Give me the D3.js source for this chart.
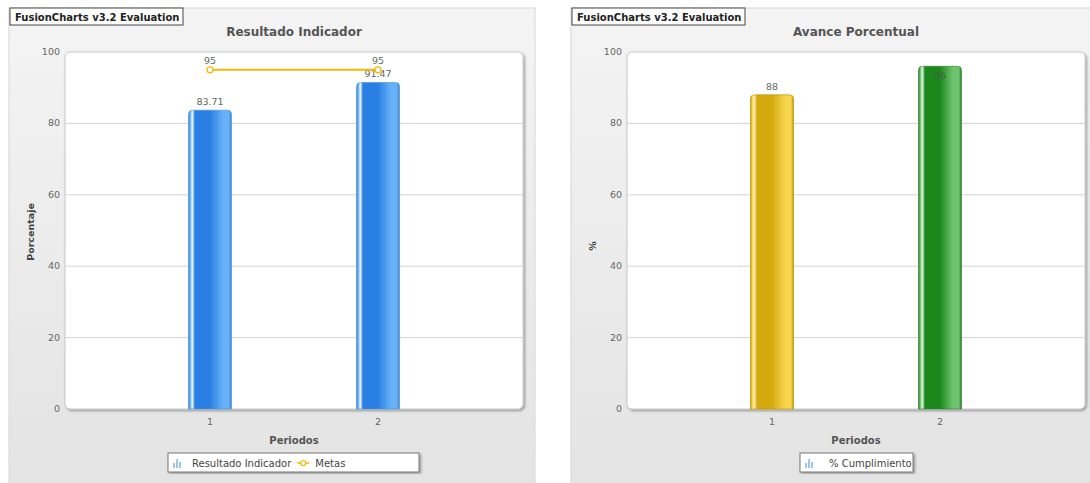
<!DOCTYPE html>
<html>
<head>
<meta charset="utf-8">
<script src="https://cdn.jsdelivr.net/npm/d3@7"></script>
<style>
  body { margin: 0; background: #fff; }
  text { font-family: "DejaVu Sans", Verdana, sans-serif; }
</style>
</head>
<body>
<div id="chart"></div>
<script>
// data
var periods = ["1", "2"];
var resultadoIndicador = [83.71, 91.47];
var metas = [95, 95];
var cumplimiento = [88, 96];
var yTicks = [0, 20, 40, 60, 80, 100];

var svg = d3.select("#chart").append("svg")
    .attr("width", 1090).attr("height", 483);

var defs = svg.append("defs");

function barGradient(id, edge, hi, mid, light)
{
    var g = defs.append("linearGradient").attr("id", id)
        .attr("x1", "0%").attr("x2", "100%").attr("y1", "0%").attr("y2", "0%");
    [[0, edge], [0.04, light], [0.09, hi], [0.15, mid], [0.5, mid], [0.8, light], [0.94, light], [1, edge]]
        .forEach(function (s) { g.append("stop").attr("offset", s[0]).attr("stop-color", s[1]); });
}
barGradient("gBlue", "#3a7ccc", "#eef7ff", "#2a7fe2", "#66b2f9");
barGradient("gGold", "#c09600", "#fbeeb8", "#d4a90e", "#f7d64c");
barGradient("gGreen", "#237a23", "#dff5df", "#1c881c", "#6ec36e");

var panelGrad = defs.append("linearGradient").attr("id", "gPanel")
    .attr("x1", 0).attr("x2", 0).attr("y1", 0).attr("y2", 1);
panelGrad.append("stop").attr("offset", 0).attr("stop-color", "#f4f4f4");
panelGrad.append("stop").attr("offset", 1).attr("stop-color", "#e3e3e3");

var shadow = defs.append("filter").attr("id", "shadow")
    .attr("x", "-5%").attr("y", "-5%").attr("width", "115%").attr("height", "115%");
shadow.append("feDropShadow").attr("dx", 1.5).attr("dy", 1.5).attr("stdDeviation", 1.2)
    .attr("flood-color", "#000").attr("flood-opacity", 0.35);

function topRounded(x, y, w, h, r)
{
    return "M" + x + "," + (y + h) + "V" + (y + r) + "Q" + x + "," + y + " " + (x + r) + "," + y +
        "H" + (x + w - r) + "Q" + (x + w) + "," + y + " " + (x + w) + "," + (y + r) + "V" + (y + h) + "Z";
}

function drawChart(c)
{
    var g = svg.append("g").attr("transform", "translate(" + c.left + ",0)");
    var w = c.width;

    g.append("rect").attr("x", 0).attr("y", 8).attr("width", w).attr("height", 480)
        .attr("fill", "url(#gPanel)").attr("stroke", "#d6d6d6");

    // evaluation tag
    g.append("rect").attr("x", 1).attr("y", 8).attr("width", 173).attr("height", 17)
        .attr("fill", "#fff").attr("stroke", "#444");
    g.append("text").attr("x", 6).attr("y", 20.5).attr("font-size", 10).attr("font-weight", "bold")
        .attr("fill", "#222").text("FusionCharts v3.2 Evaluation");

    g.append("text").attr("x", c.px0 + (c.px1 - c.px0) / 2).attr("y", 36)
        .attr("text-anchor", "middle").attr("font-size", 12).attr("font-weight", "bold")
        .attr("fill", "#555").text(c.title);

    var y = d3.scaleLinear().domain([0, 100]).range([409, 52]);
    var x = d3.scalePoint().domain(periods).range([c.px0, c.px1]).padding(0.863);

    g.append("rect").attr("x", c.px0).attr("y", 52).attr("width", c.px1 - c.px0).attr("height", 357)
        .attr("rx", 5).attr("fill", "#fff").attr("stroke", "#c8c8c8").attr("filter", "url(#shadow)");

    g.selectAll(".grid").data(yTicks.filter(function (d) { return d > 0 && d < 100; }))
        .enter().append("line")
        .attr("x1", c.px0).attr("x2", c.px1)
        .attr("y1", function (d) { return y(d); }).attr("y2", function (d) { return y(d); })
        .attr("stroke", "#d4d4d4");

    g.selectAll(".ytick").data(yTicks).enter().append("text")
        .attr("x", c.px0 - 5).attr("y", function (d) { return y(d) + 3; })
        .attr("text-anchor", "end").attr("font-size", 9.5).attr("fill", "#666")
        .text(function (d) { return d; });

    g.append("text").attr("transform", "translate(" + c.ytX + "," + c.ytY + ") rotate(-90)")
        .attr("text-anchor", "middle").attr("font-size", 9.5).attr("font-weight", "bold")
        .attr("fill", "#444").text(c.yTitle);

    var bw = 43;
    g.selectAll(".bar").data(c.bars).enter().append("path")
        .attr("d", function (d, i) {
            return topRounded(x(periods[i]) - bw / 2, y(d), bw, y(0) - y(d), 4);
        })
        .attr("fill", function (d, i) { return "url(#" + c.fills[i] + ")"; })
        .attr("stroke", function (d, i) { return c.strokes[i]; }).attr("stroke-width", 0.6);

    g.selectAll(".blabel").data(c.bars).enter().append("text")
        .attr("x", function (d, i) { return x(periods[i]); })
        .attr("y", function (d, i) { return c.inside[i] ? y(d) + 13 : y(d) - 5; })
        .attr("text-anchor", "middle").attr("font-size", 9.5)
        .attr("fill", function (d, i) { return c.inside[i] ? "#4a5a4a" : "#666"; })
        .text(function (d) { return d; });

    if (c.line)
    {
        var line = d3.line().x(function (d, i) { return x(periods[i]); }).y(function (d) { return y(d); });
        g.append("path").datum(c.line).attr("d", line).attr("fill", "none")
            .attr("stroke", "#f5b800").attr("stroke-width", 2);
        g.selectAll(".dot").data(c.line).enter().append("circle")
            .attr("cx", function (d, i) { return x(periods[i]); }).attr("cy", function (d) { return y(d); })
            .attr("r", 3).attr("fill", "#fff").attr("stroke", "#f5b800").attr("stroke-width", 1.3);
        g.selectAll(".llabel").data(c.line).enter().append("text")
            .attr("x", function (d, i) { return x(periods[i]); }).attr("y", function (d) { return y(d) - 6; })
            .attr("text-anchor", "middle").attr("font-size", 9.5).attr("fill", "#666")
            .text(function (d) { return d; });
    }

    g.selectAll(".xlabel").data(periods).enter().append("text")
        .attr("x", function (d) { return x(d); }).attr("y", 425)
        .attr("text-anchor", "middle").attr("font-size", 9.5).attr("fill", "#666")
        .text(function (d) { return d; });

    g.append("text").attr("x", c.px0 + (c.px1 - c.px0) / 2).attr("y", 444)
        .attr("text-anchor", "middle").attr("font-size", 10).attr("font-weight", "bold")
        .attr("fill", "#555").text("Periodos");

    // legend
    var lg = g.append("g").attr("transform", "translate(" + c.legX + ",453)");
    lg.append("rect").attr("width", c.legW).attr("height", 19).attr("fill", "#fff")
        .attr("stroke", "#777").attr("filter", "url(#shadow)");
    var lx = 5;
    c.legend.forEach(function (item) {
        if (item.type == "bar")
        {
            [[0, 5], [3, 9], [6, 6]].forEach(function (b) {
                lg.append("rect").attr("x", lx + b[0]).attr("y", 15 - b[1]).attr("width", 2).attr("height", b[1])
                    .attr("fill", "#9cc7ea");
            });
            lx += item.gap;
        }
        else
        {
            lg.append("line").attr("x1", lx).attr("x2", lx + 12).attr("y1", 10).attr("y2", 10)
                .attr("stroke", "#f5b800").attr("stroke-width", 1.5);
            lg.append("circle").attr("cx", lx + 6).attr("cy", 10).attr("r", 2.5)
                .attr("fill", "#fff").attr("stroke", "#f5b800").attr("stroke-width", 1.2);
            lx += 18;
        }
        var t = lg.append("text").attr("x", lx).attr("y", 13.5).attr("font-size", 10)
            .attr("fill", "#444").text(item.label);
        lx += t.node().getComputedTextLength() + 6;
    });
}

drawChart({
    left: 9, width: 526, px0: 56, px1: 514,
    title: "Resultado Indicador", yTitle: "Porcentaje", ytX: 25, ytY: 232,
    bars: resultadoIndicador, fills: ["gBlue", "gBlue"], strokes: ["#4a8fd8", "#4a8fd8"],
    inside: [false, false], line: metas,
    legX: 159, legW: 251,
    legend: [{type: "bar", label: "Resultado Indicador", gap: 19}, {type: "line", label: "Metas"}]
});

drawChart({
    left: 571, width: 530, px0: 56, px1: 514,
    title: "Avance Porcentual", yTitle: "%", ytX: 25, ytY: 246,
    bars: cumplimiento, fills: ["gGold", "gGreen"], strokes: ["#b89000", "#2a7a2a"],
    inside: [false, true], line: null,
    legX: 229, legW: 113,
    legend: [{type: "bar", label: "% Cumplimiento", gap: 24}]
});
</script>
</body>
</html>
